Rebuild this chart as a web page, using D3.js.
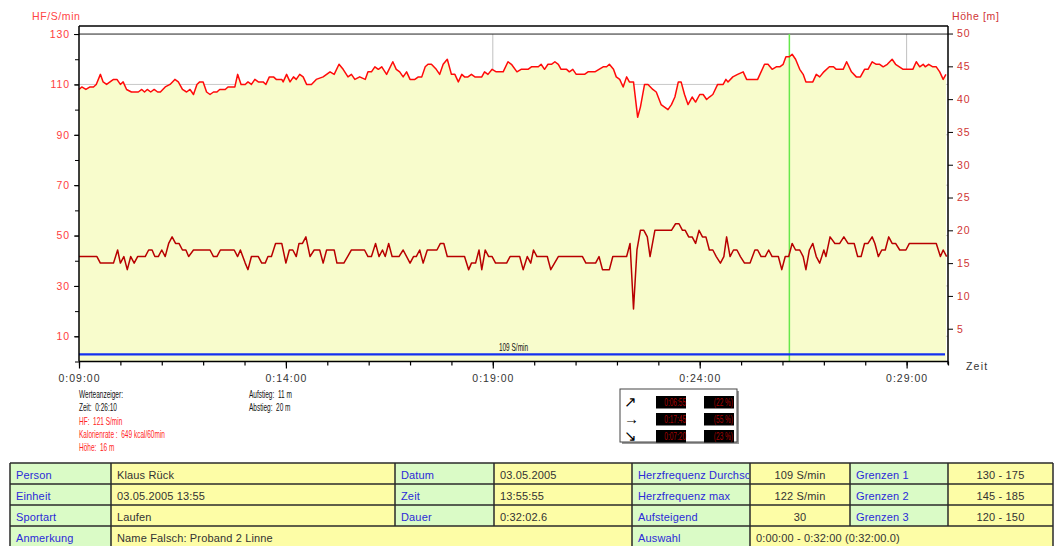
<!DOCTYPE html>
<html><head><meta charset="utf-8">
<script src="https://cdn.jsdelivr.net/npm/d3@7"></script>
<style>
body{margin:0;background:#fff;}
svg{display:block;}
text{font-family:"Liberation Sans",Arial,sans-serif;}
</style></head><body>
<svg id="c" width="1055" height="546"></svg>
<script>
// ---------------- DATA ----------------
// Heart rate (S/min), time in seconds
const hfTimes = [540,544,550,556,561,565,571,575,580,590,595,600,604,609,616,626,631,635,639,644,649,654,658,665,672,679,684,690,696,701,706,711,715,720,725,730,735,740,744,752,756,766,770,775,781,785,790,795,800,807,811,816,822,826,834,836,841,846,851,855,860,865,870,877,884,894,904,910,917,923,930,935,940,947,955,959,964,969,974,979,986,995,1000,1005,1010,1015,1020,1027,1032,1037,1042,1046,1051,1058,
1063,1068,1074,1080,1085,1090,1095,1099,1104,1109,1114,1124,1128,1133,1139,1145,1155,1162,1167,1175,1181,1191,1196,1206,1210,1215,1220,1225,1230,1235,1239,1247,1251,1256,1261,1273,1278,1288,1300,1305,1309,1315,1319,1324,1329,1334,1338,1344,1350,1354,1360,1365,1372,1377,1384,1394,1399,1404,1409,1413,1418,1423,1429,1434,1440,1445,1450,1454,1459,1466,1474,1478,1481,1488,1495,1503,1508,1524,1534,1539,1545,1551,1556,1561,1565,1570,1574,1579,1585,1590,1594,1604,1609,1614,1620,1628,1634,1638,1648,1653,1660,1667,1673,1679,1684,1690,1696,1701,1706,1712,1719,1724,1735,1749,1754,1759,1764,1767,1772,1778,1783,1788,1793,1797];
const hfValues = [108,109,108,109,109,110,114,111,110,112,112,110,111,108,107,107,108,107,108,107,108,107,107,109,110,112,111,108,107,108,106,110,111,111,107,106,107,107,108,108,109,109,114,110,110,111,110,112,111,111,110,113,113,112,112,111,114,111,113,112,114,113,110,110,112,113,115,114,118,116,113,114,112,113,112,115,115,117,116,117,114,119,116,115,113,115,112,112,113,113,117,118,118,116,
114,118,120,114,114,111,114,113,113,114,113,113,115,114,116,115,115,119,118,115,116,116,117,117,118,116,118,118,119,118,116,116,115,116,114,114,115,115,117,117,118,116,113,112,109,113,111,111,97,101,110,110,108,107,102,100,102,105,111,111,106,102,105,103,106,106,104,105,106,110,110,112,111,113,114,115,112,112,118,118,116,117,117,118,121,121,122,120,116,114,111,111,114,113,115,117,117,116,116,119,115,113,113,116,116,119,118,118,117,118,120,118,116,116,119,117,118,117,118,117,117,115,112,114];

// Altitude (m), time in seconds
const altTimes = [540,566,571,590,596,600,605,610,615,620,625,636,641,646,650,655,660,665,670,675,680,685,690,695,699,706,730,735,740,745,765,770,774,781,785,790,800,805,810,814,819,825,834,840,845,850,855,859,864,869,875,881,889,894,899,910,914,924,935,954,959,964,970,975,980,984,989,994,1004,1010,1020,1025,1029,1034,1039,1045,1059,1064,1069,1074,
1099,1105,1109,1115,1120,1124,1129,1134,1139,1144,1160,1165,1179,1184,1190,1195,1199,1204,1219,1224,1235,1270,1275,1289,1294,1299,1309,1314,1334,1339,1344,1349,1354,1359,1364,1368,1375,1399,1405,1410,1415,1419,1424,1429,1434,1439,1444,1449,1454,1459,1464,1470,1475,1479,1484,1489,1494,1499,1505,1513,1520,1524,1529,1535,1540,1545,1554,1559,1564,1569,1574,1579,1585,1590,1594,1599,1604,1609,1614,1620,1623,1629,1636,1643,1649,1655,1664,1669,1674,1679,1684,1690,1694,1699,1704,1709,1714,1719,1724,1730,1739,1744,1783,1789,1793,1798];
const altValues = [16,16,15,15,17,15,16,14,16,15,16,16,17,17,16,16,17,16,18,19,18,18,17,17,16,17,17,16,16,17,17,16,17,15,14,16,16,15,15,16,16,18,18,15,17,17,16,18,18,19,16,17,17,15,17,17,15,15,17,17,16,16,18,16,17,16,18,16,16,17,15,16,16,17,15,17,17,18,18,16,
16,14,15,15,17,14,17,16,16,15,15,16,16,14,16,15,17,16,16,14,16,16,15,15,16,14,14,16,16,18,8,17,20,20,19,16,20,20,21,21,20,20,19,19,18,20,19,19,17,17,16,15,16,19,16,17,17,16,15,15,17,17,16,16,17,16,16,14,16,16,18,17,17,16,14,17,18,16,15,17,16,19,18,18,19,18,18,16,16,18,18,19,18,16,17,17,19,18,18,17,17,18,18,16,17,16];

const xTickLabels = ["0:09:00","0:14:00","0:19:00","0:24:00","0:29:00"];
const xDomainLabels = ["0:09:00","0:30:00"];
const leftTickLabels = [10,30,50,70,90,110,130];
const rightTickLabels = [5,10,15,20,25,30,35,40,45,50];
const gridTimeLabels = ["0:19:00","0:29:00"];
const hfLimit = 130;
const avgHF = 109;
const avgLineLevel = 2.8;
const cursorTime = "0:26:10";

const leftTitle = "HF/S/min";
const rightTitle = "Höhe [m]";
const xTitle = "Zeit";
const avgLabel = avgHF + " S/min";

const infoLeft = ["Werteanzeiger:", "Zeit:  0:26:10", "HF:  121 S/min", "Kalorienrate :  649 kcal/60min", "Höhe:  16 m"];
const infoRight = ["Aufstieg:  11 m", "Abstieg:  20 m"];

const trendArrows = ["↗", "→", "↘"];
const trendTimes = ["0:06:55", "0:17:45", "0:07:20"];
const trendShares = ["(22 %)", "(55 %)", "(23 %)"];

const tableRows = [
  ["Person","Klaus Rück","Datum","03.05.2005","Herzfrequenz Durchschnitt","109 S/min","Grenzen 1","130 - 175"],
  ["Einheit","03.05.2005 13:55","Zeit","13:55:55","Herzfrequenz max","122 S/min","Grenzen 2","145 - 185"],
  ["Sportart","Laufen","Dauer","0:32:02.6","Aufsteigend","30","Grenzen 3","120 - 150"]
];
const tableLastRow = ["Anmerkung","Name Falsch: Proband 2 Linne","Auswahl","0:00:00 - 0:32:00 (0:32:00.0)"];

// ---------------- LAYOUT ----------------
const svg = d3.select("#c");
const P = {left:79, right:948, top:26, bottom:361.5};
const toSec = s => { const p = s.split(":").map(Number); return p[0]*3600+p[1]*60+p[2]; };

const x = d3.scaleLinear().domain(xDomainLabels.map(toSec)).range([P.left, P.right]);
const yL = d3.scaleLinear().domain([0, 133.2]).range([P.bottom, P.top]);
const yR = d3.scaleLinear().domain([0, 51.15]).range([P.bottom, P.top]);

const hf = hfTimes.map((t,i)=>({t, v:hfValues[i]}));
const alt = altTimes.map((t,i)=>({t, v:altValues[i]}));

svg.append("rect").attr("width",1055).attr("height",546).attr("fill","#fff");

// gridlines (behind fill)
const grid = svg.append("g");
grid.selectAll("line.h").data(leftTickLabels.filter(v=>v<hfLimit)).join("line")
  .attr("x1",P.left).attr("x2",P.right).attr("y1",d=>yL(d)).attr("y2",d=>yL(d))
  .attr("stroke","#c8c8c8").attr("stroke-width",1);
grid.selectAll("line.v").data(gridTimeLabels.map(toSec)).join("line")
  .attr("x1",d=>x(d)).attr("x2",d=>x(d)).attr("y1",yL(hfLimit)).attr("y2",P.bottom)
  .attr("stroke","#c0c0c0").attr("stroke-width",1);

// fill under HF
svg.append("path").datum(hf)
  .attr("d", d3.area().x(d=>x(d.t)).y0(P.bottom).y1(d=>yL(d.v)))
  .attr("fill","#f8fccc");

// limit line
svg.append("line").attr("x1",P.left).attr("x2",P.right)
  .attr("y1",yL(hfLimit)).attr("y2",yL(hfLimit)).attr("stroke","#222").attr("stroke-width",1);

// cursor
svg.append("line").attr("x1",x(toSec(cursorTime))).attr("x2",x(toSec(cursorTime)))
  .attr("y1",yL(hfLimit)).attr("y2",P.bottom).attr("stroke","#66e84a").attr("stroke-width",1.5);

// avg line
svg.append("line").attr("x1",P.left).attr("x2",P.right-3)
  .attr("y1",yL(avgLineLevel)).attr("y2",yL(avgLineLevel)).attr("stroke","#1530f0").attr("stroke-width",2.2);

// lines
svg.append("path").datum(alt)
  .attr("d", d3.line().x(d=>x(d.t)).y(d=>yR(d.v)))
  .attr("fill","none").attr("stroke","#b80000").attr("stroke-width",1.5).attr("stroke-linejoin","round");
svg.append("path").datum(hf)
  .attr("d", d3.line().x(d=>x(d.t)).y(d=>yL(d.v)))
  .attr("fill","none").attr("stroke","#ff0a0a").attr("stroke-width",1.5).attr("stroke-linejoin","round");

function cText(g, tx, ty, str, color, anchor, size, sx){
  return g.append("text").attr("transform",`translate(${tx},${ty}) scale(${sx||0.62},1)`)
    .attr("text-anchor",anchor||"start").attr("font-size",size||10.5).attr("fill",color)
    .style("white-space","pre").text(str);
}
cText(svg, (P.left+P.right)/2, yL(avgLineLevel)-3.5, avgLabel, "#111", "middle");

svg.append("line").attr("x1",P.left).attr("x2",P.right).attr("y1",P.top).attr("y2",P.top).attr("stroke","#000").attr("stroke-width",1.5);

const axStyle = (g,color,size,ls) => {
  g.select(".domain").remove();
  g.selectAll(".tick line").attr("stroke","#000");
  g.selectAll("text").attr("fill",color).attr("font-size",size).attr("letter-spacing",ls+"px")
    .attr("font-family","Liberation Sans, Arial, sans-serif");
};
// left
const gLm = svg.append("g").attr("transform",`translate(${P.left},0)`)
  .call(d3.axisLeft(yL).tickValues(d3.range(0,hfLimit+1,10)).tickSize(4).tickFormat(""));
gLm.select(".domain").remove(); gLm.selectAll("line").attr("stroke","#000");
const gL = svg.append("g").attr("transform",`translate(${P.left},0)`)
  .call(d3.axisLeft(yL).tickValues(leftTickLabels).tickSize(5).tickPadding(4));
axStyle(gL,"#ff3c3c",10.5,0.9);
svg.append("line").attr("x1",P.left).attr("x2",P.left).attr("y1",P.top).attr("y2",P.bottom).attr("stroke","#000").attr("stroke-width",1.5);

// right
const gR = svg.append("g").attr("transform",`translate(${P.right},0)`)
  .call(d3.axisRight(yR).tickValues(rightTickLabels).tickSize(5).tickPadding(4));
axStyle(gR,"#d03434",10.5,0.9);
svg.append("line").attr("x1",P.right).attr("x2",P.right).attr("y1",P.top).attr("y2",P.bottom+3).attr("stroke","#000").attr("stroke-width",1.5);

// bottom
const gBm = svg.append("g").attr("transform",`translate(0,${P.bottom})`)
  .call(d3.axisBottom(x).tickValues(d3.range(x.domain()[0], x.domain()[1]+1, 60)).tickSize(4).tickFormat(""));
gBm.select(".domain").remove(); gBm.selectAll("line").attr("stroke","#000").attr("stroke-width",1.2);
const gB = svg.append("g").attr("transform",`translate(0,${P.bottom})`)
  .call(d3.axisBottom(x).tickValues(xTickLabels.map(toSec)).tickSize(7).tickPadding(6)
    .tickFormat(d=>xTickLabels[xTickLabels.map(toSec).indexOf(d)]));
axStyle(gB,"#333",10.5,1);
gB.selectAll(".tick line").attr("stroke-width",1.2);
svg.append("line").attr("x1",P.left).attr("x2",P.right).attr("y1",P.bottom).attr("y2",P.bottom).attr("stroke","#000").attr("stroke-width",1.5);

// titles
const title = (tx,ty,str,color,anchor,ls) => svg.append("text").attr("x",tx).attr("y",ty)
  .attr("text-anchor",anchor).attr("font-size",10.5).attr("letter-spacing",ls+"px").attr("fill",color).text(str);
title(32,20,leftTitle,"#ff4444","start",0.6);
title(952,20,rightTitle,"#d03434","start",0.6);
title(966,370,xTitle,"#333","start",1.2);

// info block
const infoColors = ["#111","#111","#ff2424","#ff2424","#ff2424"];
infoLeft.forEach((s,i)=> cText(svg, P.left, 398 + i*13.3, s, infoColors[i]));
infoRight.forEach((s,i)=> cText(svg, 249, 398 + i*13.3, s, "#111"));

// trend box
const box = svg.append("g");
box.append("rect").attr("x",622).attr("y",391).attr("width",117).attr("height",53).attr("fill","#9a9a9a");
box.append("rect").attr("x",620).attr("y",389).attr("width",117).attr("height",53).attr("fill","#fff").attr("stroke","#444").attr("stroke-width",1);
trendArrows.forEach((a,i)=>{
  const ry = 396 + i*17;
  box.append("text").attr("x",624).attr("y",ry+11).attr("font-size",15).attr("font-family","DejaVu Sans").attr("fill","#000").text(a);
  box.append("rect").attr("x",656).attr("y",ry).attr("width",30).attr("height",12.5).attr("fill","#000");
  box.append("rect").attr("x",704).attr("y",ry).attr("width",30).attr("height",12.5).attr("fill","#000");
  cText(box, 686, ry+10, trendTimes[i], "#a80000", "end");
  cText(box, 733, ry+10, trendShares[i], "#a80000", "end");
});

// table
const colX = [10,111,395,494,632,750,850,948,1053];
const rowY = [463,484,505,526,548];
const green = "#dafbc6", yellow = "#fdfda6";
const tbl = svg.append("g");
const defs = svg.append("defs");
function cell(x0,x1,y0,y1,fill,str,color,align,id){
  tbl.append("rect").attr("x",x0).attr("y",y0).attr("width",x1-x0).attr("height",y1-y0).attr("fill",fill);
  defs.append("clipPath").attr("id",id).append("rect").attr("x",x0).attr("y",y0).attr("width",x1-x0-1).attr("height",y1-y0);
  tbl.append("text").attr("clip-path",`url(#${id})`)
    .attr("x", align==="middle" ? (x0+x1)/2 : x0+6).attr("y",y0+15.5)
    .attr("text-anchor",align).attr("font-size",11).attr("letter-spacing","0.15px").attr("fill",color).text(str);
}
tableRows.forEach((row,r)=>{
  row.forEach((s,c)=>{
    const isLabel = c%2===0;
    const align = (c===5||c===7) ? "middle" : "start";
    cell(colX[c],colX[c+1],rowY[r],rowY[r+1], isLabel?green:yellow, s, isLabel?"#2a2ad8":"#333", align, `c${r}_${c}`);
  });
});
const lastSpans = [[0,1],[1,4],[4,5],[5,8]];
tableLastRow.forEach((s,i)=>{
  const [a,b] = lastSpans[i];
  cell(colX[a],colX[b],rowY[3],rowY[4], i%2===0?green:yellow, s, i%2===0?"#2a2ad8":"#333", "start", `l${i}`);
});
const bc = "#2a2a2a";
rowY.forEach(yv=> tbl.append("line").attr("x1",colX[0]).attr("x2",colX[8]).attr("y1",yv).attr("y2",yv).attr("stroke",bc).attr("stroke-width",1.5));
colX.forEach((xv,c)=> tbl.append("line").attr("x1",xv).attr("x2",xv).attr("y1",rowY[0]).attr("y2",rowY[3]).attr("stroke",bc).attr("stroke-width",1.5));
[0,1,4,5,8].forEach(c=> tbl.append("line").attr("x1",colX[c]).attr("x2",colX[c]).attr("y1",rowY[3]).attr("y2",rowY[4]).attr("stroke",bc).attr("stroke-width",1.5));
</script>
</body></html>
